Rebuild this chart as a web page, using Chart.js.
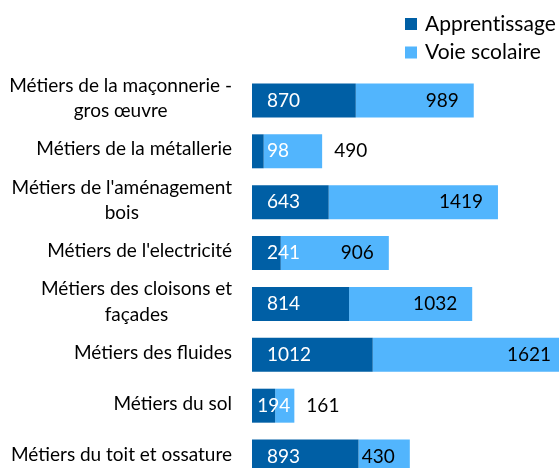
<!DOCTYPE html>
<html>
<head>
<meta charset="utf-8">
<script src="https://cdn.jsdelivr.net/npm/chart.js@4"></script>
<style>
  html, body { margin: 0; padding: 0; background: #fff; overflow: hidden; }
</style>
</head>
<body>
<canvas id="chart" width="600" height="492"></canvas>
<script>
const categories = [
  ["Métiers de la maçonnerie -", "gros œuvre"],
  "Métiers de la métallerie",
  ["Métiers de l'aménagement", "bois"],
  "Métiers de l'electricité",
  ["Métiers des cloisons et", "façades"],
  "Métiers des fluides",
  "Métiers du sol",
  "Métiers du toit et ossature"
];
const apprentissage = [870, 98, 643, 241, 814, 1012, 194, 893];
const voieScolaire = [989, 490, 1419, 906, 1032, 1621, 161, 430];
const seriesNames = ["Apprentissage", "Voie scolaire"];

const DARK = "#005fa5";
const LIGHT = "#52b5fd";
const FONT = "Lato, 'Open Sans', sans-serif";
const FONT_SIZE = 19;
const LEGEND_SIZE = 21;

// value labels: white near the start of the dark segment, black at the end of the light one
const barLabels = {
  id: "barLabels",
  afterDatasetsDraw(chart) {
    const ctx = chart.ctx;
    const dark = chart.getDatasetMeta(0).data;
    const light = chart.getDatasetMeta(1).data;
    ctx.save();
    ctx.font = `${FONT_SIZE}px ${FONT}`;
    ctx.textBaseline = "middle";
    ctx.textAlign = "left";
    dark.forEach((bar, i) => {
      const seg = light[i];
      const txt = String(apprentissage[i]);
      const w = ctx.measureText(txt).width;
      // keep the white number inside the whole bar
      const x = Math.min(bar.base + 15, seg.x - w - 4);
      ctx.fillStyle = "#fff";
      ctx.fillText(txt, x, bar.y);

      ctx.fillStyle = "#000";
      if (apprentissage[i] + voieScolaire[i] < 700) {
        // short bars: put the number past the end
        ctx.textAlign = "left";
        ctx.fillText(voieScolaire[i], seg.x + 12, seg.y);
      } else {
        ctx.textAlign = "right";
        ctx.fillText(voieScolaire[i], seg.x - 15, seg.y);
      }
      ctx.textAlign = "left";
    });
    ctx.restore();
  }
};

// category names, each block right-aligned, lines centred inside the block
const categoryLabels = {
  id: "categoryLabels",
  afterDraw(chart) {
    const { ctx, chartArea } = chart;
    const yScale = chart.scales.y;
    const lineH = 25.5;
    ctx.save();
    ctx.font = `${FONT_SIZE}px ${FONT}`;
    ctx.fillStyle = "#000";
    ctx.textAlign = "center";
    ctx.textBaseline = "middle";
    const right = chartArea.left - 20;
    categories.forEach((label, i) => {
      const lines = [].concat(label);
      const w = Math.max(...lines.map(l => ctx.measureText(l).width));
      const cx = right - w / 2;
      const cy = yScale.getPixelForValue(i) - 2;
      lines.forEach((line, k) => {
        ctx.fillText(line, cx, cy + (k - (lines.length - 1) / 2) * lineH);
      });
    });
    ctx.restore();
  }
};

// legend in the top right corner, two rows
const cornerLegend = {
  id: "cornerLegend",
  afterDraw(chart) {
    const ctx = chart.ctx;
    const colors = [DARK, LIGHT];
    ctx.save();
    ctx.font = `${LEGEND_SIZE}px ${FONT}`;
    ctx.letterSpacing = "0.01px"; // no "ti" ligature
    ctx.textBaseline = "middle";
    ctx.textAlign = "left";
    seriesNames.forEach((name, i) => {
      const y = 24 + i * 28.5;
      ctx.fillStyle = colors[i];
      ctx.fillRect(405, y - 6, 12, 12);
      ctx.fillStyle = "#000";
      ctx.fillText(name, 425, y);
    });
    ctx.restore();
  }
};

new Chart(document.getElementById("chart"), {
  type: "bar",
  data: {
    labels: categories,
    datasets: [
      { label: seriesNames[0], data: apprentissage, backgroundColor: DARK },
      { label: seriesNames[1], data: voieScolaire, backgroundColor: LIGHT }
    ]
  },
  options: {
    indexAxis: "y",
    responsive: false,
    animation: false,
    layout: { padding: { left: 252, top: 75, right: 14, bottom: 10 } },
    datasets: { bar: { categoryPercentage: 0.668, barPercentage: 1 } },
    scales: {
      x: { stacked: true, min: 0, max: 2800, display: false },
      y: { stacked: true, display: false }
    },
    plugins: {
      legend: { display: false },
      tooltip: { enabled: false }
    }
  },
  plugins: [barLabels, categoryLabels, cornerLegend]
});
</script>
</body>
</html>
